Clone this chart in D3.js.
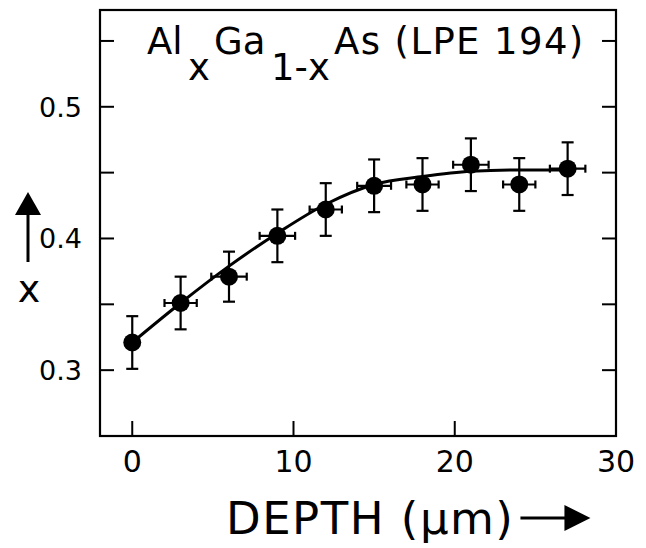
<!DOCTYPE html>
<html>
<head>
<meta charset="utf-8">
<title>AlGaAs depth profile</title>
<script src="https://d3js.org/d3.v7.min.js"></script>
<style>
  body { margin: 0; background: #fff; }
  text { font-family: "DejaVu Sans", sans-serif; fill: #000; }
</style>
</head>
<body>
<svg width="646" height="548"></svg>
<script>
// measured points
const depth = [0, 3, 6, 9, 12, 15, 18, 21, 24, 27];
const xVal  = [0.321, 0.351, 0.371, 0.402, 0.422, 0.440, 0.441, 0.456, 0.441, 0.453];
const xErr  = [0.020, 0.020, 0.019, 0.020, 0.020, 0.020, 0.020, 0.020, 0.020, 0.020];
const dErr  = [0, 1, 1.1, 1.1, 1, 1.05, 1, 1.1, 1, 1.1];

// fitted curve
const fitDepth = [0, 3, 6, 9, 12, 15, 18, 21, 24, 27];
const fitX     = [0.321, 0.351, 0.379, 0.404, 0.426, 0.441, 0.447, 0.451, 0.452, 0.452];

const xTicks = [0, 10, 20, 30];
const yTicks = [0.3, 0.4, 0.5];
const yMinor = [0.3, 0.35, 0.4, 0.45, 0.5, 0.55];

const margin = {top: 10, right: 30, bottom: 112, left: 100};
const width = 646 - margin.left - margin.right;
const height = 548 - margin.top - margin.bottom;

const svg = d3.select('svg');
const chart = svg.append('g')
  .attr('transform', `translate(${margin.left},${margin.top})`);

const x = d3.scaleLinear().domain([-2, 30]).range([0, width]);
const y = d3.scaleLinear().domain([0.25, 0.5735]).range([height, 0]);

// frame
chart.append('rect')
  .attr('width', width).attr('height', height)
  .attr('fill', 'none').attr('stroke', '#000').attr('stroke-width', 2.2);

// inward ticks
chart.selectAll('.xt').data(xTicks).enter().append('line')
  .attr('x1', d => x(d)).attr('x2', d => x(d))
  .attr('y1', height).attr('y2', height - 15)
  .attr('stroke', '#000').attr('stroke-width', 2);

chart.selectAll('.ytl').data(yMinor).enter().append('line')
  .attr('x1', 0).attr('x2', 14)
  .attr('y1', d => y(d)).attr('y2', d => y(d))
  .attr('stroke', '#000').attr('stroke-width', 2);
chart.selectAll('.ytr').data(yMinor).enter().append('line')
  .attr('x1', width).attr('x2', width - 14)
  .attr('y1', d => y(d)).attr('y2', d => y(d))
  .attr('stroke', '#000').attr('stroke-width', 2);

// tick labels
chart.selectAll('.xl').data(xTicks).enter().append('text')
  .attr('x', d => x(d)).attr('y', height + 36)
  .attr('text-anchor', 'middle')
  .style('font-size', '30px')
  .text(d => d);

chart.selectAll('.yl').data(yTicks).enter().append('text')
  .attr('x', -18).attr('y', d => y(d))
  .attr('dy', '0.36em')
  .attr('text-anchor', 'end')
  .style('font-size', '27px')
  .text(d => d.toFixed(1));

// fit curve
const line = d3.line()
  .x((d, i) => x(fitDepth[i]))
  .y(d => y(d))
  .curve(d3.curveMonotoneX);
chart.append('path')
  .datum(fitX)
  .attr('d', line)
  .attr('fill', 'none').attr('stroke', '#000').attr('stroke-width', 3);

// error bars
const pts = depth.map((d, i) => ({d: d, v: xVal[i], ev: xErr[i], ed: dErr[i]}));
const eb = chart.append('g').attr('stroke', '#000').attr('stroke-width', 2.2);
pts.forEach(p => {
  eb.append('line')
    .attr('x1', x(p.d)).attr('x2', x(p.d))
    .attr('y1', y(p.v - p.ev)).attr('y2', y(p.v + p.ev));
  [p.v - p.ev, p.v + p.ev].forEach(v => {
    eb.append('line')
      .attr('x1', x(p.d) - 6).attr('x2', x(p.d) + 6)
      .attr('y1', y(v)).attr('y2', y(v));
  });
  if (p.ed > 0) {
    eb.append('line')
      .attr('x1', x(p.d - p.ed)).attr('x2', x(p.d + p.ed))
      .attr('y1', y(p.v)).attr('y2', y(p.v));
    [p.d - p.ed, p.d + p.ed].forEach(d => {
      eb.append('line')
        .attr('x1', x(d)).attr('x2', x(d))
        .attr('y1', y(p.v) - 4).attr('y2', y(p.v) + 4);
    });
  }
});

chart.selectAll('.pt').data(pts).enter().append('circle')
  .attr('cx', d => x(d.d)).attr('cy', d => y(d.v))
  .attr('r', 9).attr('fill', '#000');

// title with subscripts
const title = svg.append('text')
  .attr('y', 54)
  .style('font-size', '37px');
title.append('tspan').attr('x', 147).text('Al');
title.append('tspan').attr('x', 188).attr('dy', 26).text('x');
title.append('tspan').attr('x', 214).attr('dy', -26).text('Ga');
title.append('tspan').attr('x', 271).attr('dy', 26).text('1-x');
title.append('tspan').attr('x', 334).attr('dy', -26)
  .style('letter-spacing', '1.4px').text('As (LPE 194)');

// y axis label with arrow
svg.append('line')
  .attr('x1', 28).attr('x2', 28).attr('y1', 262).attr('y2', 210)
  .attr('stroke', '#000').attr('stroke-width', 3);
svg.append('path')
  .attr('d', 'M15,215 L28,192 L41,215 Z').attr('fill', '#000');
svg.append('text')
  .attr('x', 29).attr('y', 302)
  .attr('text-anchor', 'middle')
  .style('font-size', '38px')
  .text('x');

// x axis label with arrow
const xt = svg.append('text')
  .attr('x', 226).attr('y', 534)
  .style('font-size', '45px')
  .style('letter-spacing', '1.5px')
  .text('DEPTH (µm)');
const tb = xt.node().getBBox();
const ax0 = tb.x + tb.width + 6;
svg.append('line')
  .attr('x1', ax0).attr('x2', ax0 + 48)
  .attr('y1', 518).attr('y2', 518)
  .attr('stroke', '#000').attr('stroke-width', 3);
svg.append('path')
  .attr('d', `M${ax0 + 44},505 L${ax0 + 70},518 L${ax0 + 44},531 Z`)
  .attr('fill', '#000');
</script>
</body>
</html>
